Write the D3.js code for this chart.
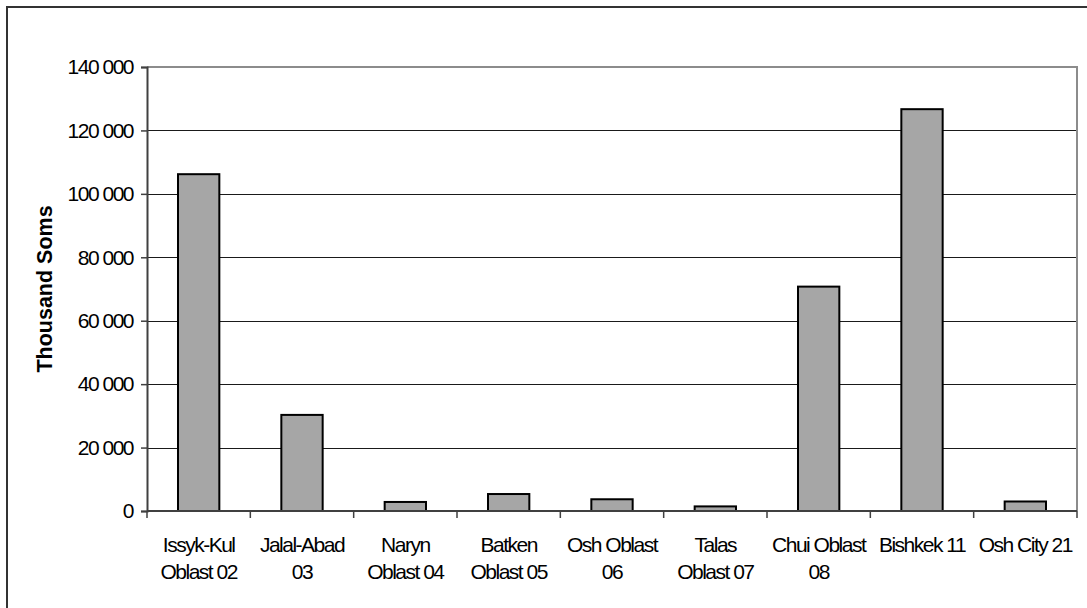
<!DOCTYPE html>
<html>
<head>
<meta charset="utf-8">
<script src="https://cdn.jsdelivr.net/npm/d3@7"></script>
<style>
  html, body { margin: 0; padding: 0; background: #fff; }
  svg { display: block; }
  text { font-family: "Liberation Sans", Arial, sans-serif; fill: #000; }
</style>
</head>
<body>
<svg id="chart" width="1087" height="608"></svg>
<script>
// ---- data ----
const categories = [
  "Issyk-Kul\nOblast 02",
  "Jalal-Abad\n03",
  "Naryn\nOblast 04",
  "Batken\nOblast 05",
  "Osh Oblast\n06",
  "Talas\nOblast 07",
  "Chui Oblast\n08",
  "Bishkek 11",
  "Osh City 21"
];
const values = [106200, 30300, 2850, 5350, 3700, 1450, 70750, 126700, 3000];
const yTicks = [0, 20000, 40000, 60000, 80000, 100000, 120000, 140000];
const yTitle = "Thousand Soms";

// ---- layout ----
const svg = d3.select("#chart");
const plot = { left: 147, right: 1077, top: 67, bottom: 511 };

const x = d3.scaleBand()
  .domain(categories)
  .range([plot.left, plot.right])
  .paddingInner(0.6)
  .paddingOuter(0.3);

const y = d3.scaleLinear()
  .domain([0, 140000])
  .range([plot.bottom, plot.top]);

const fmt = d3.formatLocale({ decimal: ".", thousands: " ", grouping: [3], currency: ["", ""] }).format(",");

// outer frame
svg.append("rect")
  .attr("x", 7).attr("y", 7)
  .attr("width", 1200).attr("height", 700)
  .attr("fill", "none")
  .attr("stroke", "#333")
  .attr("stroke-width", 2);

// gridlines
svg.append("g")
  .selectAll("line")
  .data(yTicks.filter(d => d > 0 && d < 140000))
  .join("line")
  .attr("x1", plot.left).attr("x2", plot.right)
  .attr("y1", d => Math.round(y(d)) + 0.5)
  .attr("y2", d => Math.round(y(d)) + 0.5)
  .attr("stroke", "#1a1a1a")
  .attr("stroke-width", 1);

// plot-area top and right border (gray)
svg.append("path")
  .attr("d", `M${plot.left},${y(140000)}H${plot.right}V${plot.bottom}`)
  .attr("fill", "none")
  .attr("stroke", "#8c8c8c")
  .attr("stroke-width", 2);

// bars
svg.append("g")
  .selectAll("rect")
  .data(values)
  .join("rect")
  .attr("x", (d, i) => x(categories[i]))
  .attr("y", d => y(d))
  .attr("width", x.bandwidth())
  .attr("height", d => y(0) - y(d))
  .attr("fill", "#a6a6a6")
  .attr("stroke", "#000")
  .attr("stroke-width", 2);

// y axis
const yAxis = svg.append("g")
  .attr("transform", `translate(${plot.left},0)`)
  .call(d3.axisLeft(y).tickValues(yTicks).tickFormat(fmt).tickSize(6).tickPadding(8));
yAxis.select(".domain").attr("stroke", "#404040").attr("stroke-width", 2);
yAxis.selectAll(".tick line").attr("stroke", "#404040").attr("stroke-width", 1.5);
yAxis.selectAll(".tick text")
  .attr("font-family", "Liberation Sans, Arial, sans-serif")
  .attr("font-size", 21)
  .attr("letter-spacing", "-1.5px")
  .attr("fill", "#000");

// x axis (ticks at category boundaries)
const xAxisG = svg.append("g")
  .attr("transform", `translate(0,${plot.bottom})`);
const boundaries = categories.map(c => x(c) - x.step() * x.paddingOuter()).concat([plot.right]);
xAxisG.append("line")
  .attr("x1", plot.left).attr("x2", plot.right)
  .attr("y1", 0).attr("y2", 0)
  .attr("stroke", "#404040").attr("stroke-width", 2);
xAxisG.selectAll("line.tk")
  .data(boundaries)
  .join("line")
  .attr("class", "tk")
  .attr("x1", d => d).attr("x2", d => d)
  .attr("y1", 0).attr("y2", 7)
  .attr("stroke", "#404040").attr("stroke-width", 1.5);

// category labels
const labels = svg.append("g")
  .selectAll("text")
  .data(categories)
  .join("text")
  .attr("x", d => x(d) + x.bandwidth() / 2)
  .attr("y", 551.5)
  .attr("text-anchor", "middle")
  .attr("font-size", 21)
  .attr("letter-spacing", "-1.5px");
labels.each(function(d) {
  const t = d3.select(this);
  const cx = x(d) + x.bandwidth() / 2;
  d.split("\n").forEach((line, i) => {
    t.append("tspan")
      .attr("x", cx)
      .attr("dy", i === 0 ? 0 : 27.5)
      .text(line);
  });
});

// y axis title
svg.append("text")
  .attr("transform", `translate(52,${(plot.top + plot.bottom) / 2}) rotate(-90)`)
  .attr("text-anchor", "middle")
  .attr("font-size", 21.5)
  .attr("font-weight", "bold")
  .text(yTitle);
</script>
</body>
</html>
